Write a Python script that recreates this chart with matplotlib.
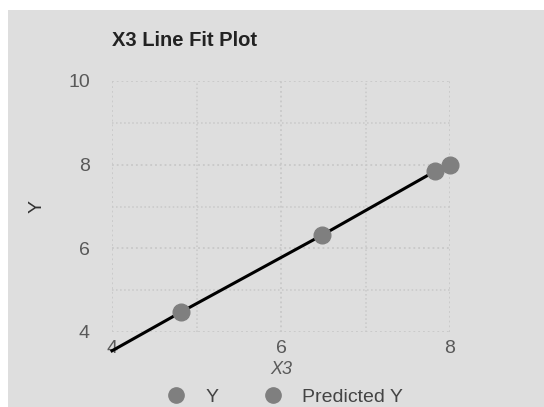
import matplotlib
matplotlib.use("Agg")
import matplotlib.pyplot as plt
from matplotlib.lines import Line2D
from matplotlib.patches import Rectangle

plt.rcParams['font.family'] = ['Liberation Sans', 'DejaVu Sans']

# observed points
x_obs = [4.82, 6.49, 7.82, 8.0]
y_obs = [4.48, 6.32, 7.84, 8.0]
# predicted (fit line)
x_pred = [4.0, 4.82, 6.49, 7.82]
y_pred = [3.55, 4.48, 6.32, 7.84]

x_ticks = [4, 6, 8]
y_ticks = [4, 6, 8, 10]

grey = '#7f7f7f'
bg = '#dedede'

fig = plt.figure(figsize=(5.44, 4.07), dpi=100, facecolor='white')
fig.patches.append(Rectangle((8 / 544, 0), 1, 1 - 10 / 407, transform=fig.transFigure,
                             facecolor=bg, edgecolor='none', zorder=-10))

ax = fig.add_axes([112 / 544, 1 - 332 / 407, 338 / 544, 251 / 407])
ax.set_facecolor(bg)
ax.set_xlim(4, 8)
ax.set_ylim(4, 10)
ax.set_xticks(x_ticks)
ax.set_yticks(y_ticks)
ax.set_xticks([5, 7], minor=True)
ax.set_yticks([5, 7, 9], minor=True)
ax.grid(which='major', color='#c8c8c8', linewidth=1.3, linestyle=':')
ax.grid(which='minor', color='#c8c8c8', linewidth=1.1, linestyle=':')
for s in ax.spines.values():
    s.set_visible(False)
ax.tick_params(which='both', length=0, labelsize=14, labelcolor='#595959')
ax.tick_params(axis='x', pad=6)
ax.tick_params(axis='y', pad=16)

ax.plot(x_pred, y_pred, color='black', linewidth=2.2, clip_on=False, zorder=3)
ax.plot(x_obs, y_obs, 'o', color=grey, markersize=12, clip_on=False, zorder=4)

ax.set_xlabel('X3', fontsize=13, style='italic', color='#595959', labelpad=3)
ax.set_ylabel('Y', fontsize=14, color='#333333', labelpad=16)

fig.text(112 / 544, 1 - 41 / 407, 'X3 Line Fit Plot', fontsize=14.5, fontweight='bold',
         color='#222222', va='center', ha='left')

handles = [Line2D([], [], marker='o', linestyle='none', color=grey, markersize=11),
           Line2D([], [], marker='o', linestyle='none', color=grey, markersize=11)]
fig.legend(handles, ['Y', 'Predicted Y'], loc='center', bbox_to_anchor=(280 / 544, 1 - 397 / 407),
           ncol=2, frameon=False, fontsize=14, labelcolor='#444444', handletextpad=0.5,
           columnspacing=1.8, borderaxespad=0)

fig.savefig('out.png', dpi=100, facecolor='white')
